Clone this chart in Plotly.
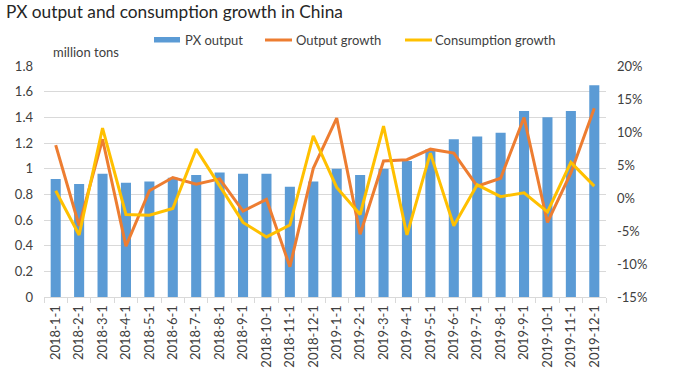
import plotly.graph_objects as go

categories = ["2018-1-1", "2018-2-1", "2018-3-1", "2018-4-1", "2018-5-1", "2018-6-1",
              "2018-7-1", "2018-8-1", "2018-9-1", "2018-10-1", "2018-11-1", "2018-12-1",
              "2019-1-1", "2019-2-1", "2019-3-1", "2019-4-1", "2019-5-1", "2019-6-1",
              "2019-7-1", "2019-8-1", "2019-9-1", "2019-10-1", "2019-11-1", "2019-12-1"]

px_output = [0.92, 0.88, 0.96, 0.89, 0.90, 0.93, 0.95, 0.97, 0.96, 0.96, 0.86, 0.90,
             1.00, 0.95, 1.00, 1.06, 1.15, 1.23, 1.25, 1.28, 1.45, 1.40, 1.45, 1.65]

output_growth = [0.080, -0.042, 0.089, -0.073, 0.011, 0.031, 0.021, 0.029, -0.020, -0.002, -0.104, 0.045,
                 0.121, -0.055, 0.056, 0.058, 0.074, 0.068, 0.018, 0.030, 0.122, -0.037, 0.038, 0.136]

consumption_growth = [0.011, -0.056, 0.106, -0.025, -0.026, -0.016, 0.074, 0.019, -0.037, -0.059, -0.041, 0.094,
                      0.016, -0.025, 0.109, -0.056, 0.068, -0.042, 0.020, 0.002, 0.008, -0.021, 0.054, 0.018]

left_ticks = [0, 0.2, 0.4, 0.6, 0.8, 1.0, 1.2, 1.4, 1.6, 1.8]
right_tickvals = [-0.15, -0.10, -0.05, 0, 0.05, 0.10, 0.15, 0.20]
right_ticktext = ["-15%", "-10%", "-5%", "0%", "5%", "10%", "15%", "20%"]

series_names = ["PX output", "Output growth", "Consumption growth"]
series_colors = ["#5B9BD5", "#ED7D31", "#FFC000"]

FONT = "Lato, Carlito, 'Liberation Sans', sans-serif"
TXT = "#404040"

W, H = 684, 381
PLOT_X0, PLOT_X1, PLOT_Y0, PLOT_Y1 = 44, 606, 66, 297   # plot area in page pixels
L, R = PLOT_X0, W - PLOT_X1
T, B = PLOT_Y0, H - PLOT_Y1
PW, PH = PLOT_X1 - PLOT_X0, PLOT_Y1 - PLOT_Y0


def px_x(x):
    return (x - PLOT_X0) / PW


def px_y(y):
    return (PLOT_Y1 - y) / PH


fig = go.Figure()
fig.add_trace(go.Bar(x=categories, y=px_output, name=series_names[0],
                     marker=dict(color=series_colors[0], line=dict(width=0)), width=0.43, yaxis="y"))
fig.add_trace(go.Scatter(x=categories, y=output_growth, name=series_names[1], mode="lines",
                         line=dict(color=series_colors[1], width=3), yaxis="y2"))
fig.add_trace(go.Scatter(x=categories, y=consumption_growth, name=series_names[2], mode="lines",
                         line=dict(color=series_colors[2], width=3), yaxis="y2"))

# custom legend (swatches + labels) to mimic the original layout
shapes = [
    dict(type="rect", xref="paper", yref="paper", x0=px_x(154), x1=px_x(180), y0=px_y(42.5), y1=px_y(37),
         fillcolor=series_colors[0], line=dict(width=0)),
    dict(type="line", xref="paper", yref="paper", x0=px_x(265), x1=px_x(292), y0=px_y(40), y1=px_y(40),
         line=dict(color=series_colors[1], width=3)),
    dict(type="line", xref="paper", yref="paper", x0=px_x(405), x1=px_x(432), y0=px_y(40), y1=px_y(40),
         line=dict(color=series_colors[2], width=3)),
]
legend_text_x = [183, 294, 433]
annotations = [dict(text=n, x=px_x(xx), xref="paper", y=px_y(40), yref="paper", showarrow=False,
                    xanchor="left", yanchor="middle", font=dict(family=FONT, size=13, color=TXT))
               for n, xx in zip(series_names, legend_text_x)]
annotations.append(dict(text="million tons", x=px_x(51), xref="paper", y=px_y(52), yref="paper",
                        showarrow=False, xanchor="left", yanchor="middle",
                        font=dict(family=FONT, size=13, color=TXT)))

fig.update_layout(
    width=W, height=H,
    margin=dict(l=L, r=R, t=T, b=B, autoexpand=False),
    paper_bgcolor="white", plot_bgcolor="white",
    font=dict(family=FONT, size=13, color=TXT),
    title=dict(text="PX output and consumption growth in China", x=6 / W, xanchor="left",
               y=1 - 12 / H, yanchor="middle", font=dict(family=FONT, size=17.3, color="#262626")),
    showlegend=False,
    bargap=0.57,
    shapes=shapes,
    annotations=annotations,
    xaxis=dict(type="category", showgrid=False, showline=True, linecolor="#d9d9d9", linewidth=1,
               ticks="outside", tickson="boundaries", ticklen=5, tickcolor="#d9d9d9",
               tickangle=-90, ticklabelstandoff=2, tickfont=dict(size=13, color=TXT)),
    yaxis=dict(range=[0, 1.8], tickvals=left_ticks, showgrid=True, gridcolor="#d9d9d9",
               gridwidth=1, zeroline=False, showline=False, ticks="", ticklabelstandoff=10,
               tickfont=dict(size=13, color=TXT)),
    yaxis2=dict(range=[-0.15, 0.20], overlaying="y", side="right", tickvals=right_tickvals,
                ticktext=right_ticktext, showgrid=False, zeroline=False, showline=False,
                ticks="", ticklabelstandoff=10, tickfont=dict(size=13, color=TXT)),
)

# remove the browser's default 8px page margin so the figure sits at the window's corner
fig.write_html("out.html", config={"displayModeBar": False},
               post_script="document.body.style.margin='0px';")
